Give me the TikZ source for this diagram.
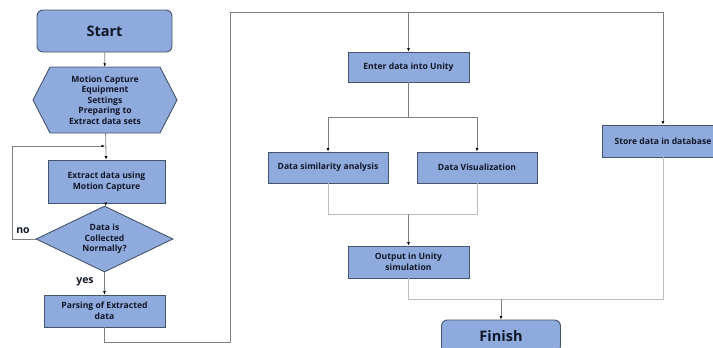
\documentclass[tikz,border=0pt]{standalone}
\usepackage{fontspec}
\setmainfont{Open Sans}
\usepackage{tikz}
\usetikzlibrary{arrows.meta,shapes.geometric}
\definecolor{boxfill}{HTML}{8FAADC}
\definecolor{boxedge}{HTML}{44546A}
\definecolor{boxtext}{HTML}{111827}
\definecolor{linegray}{HTML}{7F7F7F}
\definecolor{lightgray}{HTML}{BDBDBD}

\begin{document}
\begin{tikzpicture}[x=1pt, y=-1pt,
    font=\bfseries\fontsize{8.6}{10.6}\selectfont,
    proc/.style={draw=boxedge, fill=boxfill, line width=0.9pt, text=boxtext, align=center, inner sep=0pt, minimum height=31},
    term/.style={proc, rounded corners=6, minimum height=42, font=\bfseries\fontsize{14.5}{18}\selectfont},
    cond/.style={diamond, aspect=2, draw=boxedge, fill=boxfill, line width=0.9pt, text=boxtext, align=center, inner sep=1pt, minimum width=137, minimum height=66},
    conn/.style={draw=linegray, line width=0.8pt},
    soft/.style={draw=lightgray, line width=0.8pt},
    tip/.style={conn, -{Latex[black, length=3.5pt, width=3pt]}},
    lbl/.style={text=boxtext, font=\bfseries\fontsize{10.5}{13}\selectfont}
]
\clip (0,0) rectangle (713,348); % cornice

% Colonna sinistra
\node[term, minimum width=135] (start) at (104.5,31) {Start};
\filldraw[draw=boxedge, fill=boxfill, line width=0.9pt]
    (50,67) -- (160,67) -- (177,100) -- (160,133) -- (50,133) -- (33,100) -- cycle; % esagono
\node[text=boxtext, align=center, inner sep=0pt, minimum width=144, minimum height=66] (prep) at (105,100)
    {Motion Capture\\Equipment\\Settings\\Preparing to\\Extract data sets};
\node[proc, minimum width=117, minimum height=43] (extract) at (106.5,181.5) {Extract data using\\Motion Capture};
\node[cond] (check) at (104.5,239) {Data is\\Collected\\Normally?};
\node[proc, minimum width=121, minimum height=32] (parse) at (104.5,311) {Parsing of Extracted\\data};
\node[lbl] (no) at (23,231) {no};
\node[lbl] (yes) at (85,282) {yes};

% Colonna destra
\node[proc, minimum width=121, minimum height=30] (enter) at (408.5,67) {Enter data into Unity};
\node[proc, minimum width=120] (simil) at (328,167.5) {Data similarity analysis};
\node[proc, minimum width=120] (visual) at (477,167.5) {Data Visualization};
\node[proc, minimum width=121, minimum height=32] (output) at (408.5,262) {Output in Unity\\simulation};
\node[proc, minimum width=122, minimum height=32] (store) at (663,141) {Store data in database};
\node[term, minimum width=119, minimum height=32] (finish) at (501,336) {Finish};

% Punti di giunzione
\coordinate (loopL) at (12,146);
\coordinate (loopin) at (105,146);
\coordinate (lowL) at (230,342);
\coordinate (busL) at (230,12);
\coordinate (busR) at (663,12);
\coordinate (split) at (408.5,117);
\coordinate (join) at (408.5,214);
\coordinate (endj) at (501,299);

% Frecce
\draw[tip] (start) -- (prep);
\draw[tip] (prep) -- (extract);
\draw[tip] (extract) -- (check);
\draw[tip] (check) -- (parse);
\draw[conn] (check.west) -| (loopL);
\draw[tip] (loopL) -- (loopin); % ritorno "no"
\draw[conn] (parse) |- (lowL) -- (busL) -- (busR);
\draw[tip] (busR) -- (store);
\draw[tip] (enter.north |- busL) -- (enter);
\draw[conn] (enter) -- (split);
\draw[tip] (split) -| (simil);
\draw[tip] (split) -| (visual);
\draw[soft] (simil) |- (join);
\draw[soft] (visual) |- (join);
\draw[tip] (join) -- (output);
\draw[soft] (output) |- (endj);
\draw[soft] (store) |- (endj);
\draw[tip] (endj) -- (finish);

\end{tikzpicture}
\end{document}
